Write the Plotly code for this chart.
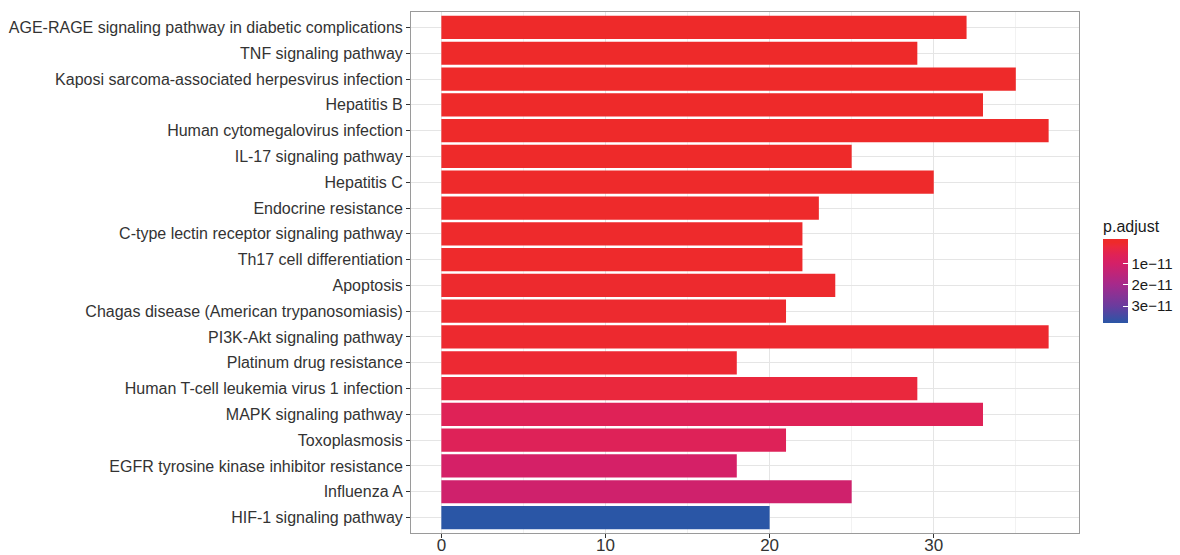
import plotly.graph_objects as go

# KEGG pathway enrichment: gene counts and adjusted p-values
pathways = [
    "AGE-RAGE signaling pathway in diabetic complications",
    "TNF signaling pathway",
    "Kaposi sarcoma-associated herpesvirus infection",
    "Hepatitis B",
    "Human cytomegalovirus infection",
    "IL-17 signaling pathway",
    "Hepatitis C",
    "Endocrine resistance",
    "C-type lectin receptor signaling pathway",
    "Th17 cell differentiation",
    "Apoptosis",
    "Chagas disease (American trypanosomiasis)",
    "PI3K-Akt signaling pathway",
    "Platinum drug resistance",
    "Human T-cell leukemia virus 1 infection",
    "MAPK signaling pathway",
    "Toxoplasmosis",
    "EGFR tyrosine kinase inhibitor resistance",
    "Influenza A",
    "HIF-1 signaling pathway",
]
counts = [32, 29, 35, 33, 37, 25, 30, 23, 22, 22, 24, 21, 37, 18, 29, 33, 21, 18, 25, 20]
p_adjust = [1.2e-15, 2e-15, 5e-15, 1e-14, 2e-14, 5e-14, 8e-14, 1.5e-13, 2e-13, 2.5e-13,
            4e-13, 5e-13, 6e-13, 1e-12, 2.2e-12, 6e-12, 6.3e-12, 9.8e-12, 1.1e-11, 3.8e-11]

cbar_ticks = [1e-11, 2e-11, 3e-11]
cbar_labels = ["1e\u221211", "2e\u221211", "3e\u221211"]
x_ticks = [0, 10, 20, 30]

# red (small p) to blue (large p); values are negated so the smallest p
# sits at the top of the colour bar
p_lo = -1.6e-12          # bar extends slightly past zero at the top
p_hi = max(p_adjust)
neg_p = [-v for v in p_adjust]
c_min, c_max = -p_hi, -p_lo

color_anchors = [
    (p_hi, "#2A56A6"),
    (3.0e-11, "#6A3C9E"),
    (2.0e-11, "#A52A8C"),
    (1.0e-11, "#D42068"),
    (6.0e-12, "#DF2257"),
    (2.0e-12, "#EB283C"),
    (0.0, "#EE2A2A"),
    (p_lo, "#EE2A2A"),
]
colorscale = [[(-p - c_min) / (c_max - c_min), c] for p, c in color_anchors]

# 5% padding on the count axis, 0.6 category padding on the pathway axis
x_max = max(counts)
x_pad = 0.05 * x_max
n = len(pathways)

fig = go.Figure(
    go.Bar(
        x=counts,
        y=pathways,
        orientation="h",
        marker=dict(
            color=neg_p,
            colorscale=colorscale,
            cmin=c_min,
            cmax=c_max,
            line=dict(width=0),
            colorbar=dict(
                title=dict(text="p.adjust", side="top",
                           font=dict(size=16, color="#1A1A1A")),
                tickvals=[-t for t in cbar_ticks],
                ticktext=cbar_labels,
                tickfont=dict(size=15, color="#1A1A1A"),
                ticks="inside",
                ticklen=5,
                tickcolor="#FFFFFF",
                thickness=25,
                thicknessmode="pixels",
                len=106,
                lenmode="pixels",
                x=1.036,
                xanchor="left",
                xpad=0,
                y=0.4031,
                yanchor="bottom",
                ypad=0,
                outlinewidth=0,
            ),
        ),
        showlegend=False,
    )
)

fig.update_layout(
    width=1180,
    height=555,
    margin=dict(l=411, r=101, t=12, b=22, autoexpand=False),
    paper_bgcolor="white",
    plot_bgcolor="white",
    bargap=0.1,
    font=dict(family="Liberation Sans, Arial, sans-serif"),
    xaxis=dict(
        range=[-x_pad, x_max + x_pad],
        tickvals=x_ticks,
        tickfont=dict(size=17, color="#333333"),
        ticks="outside",
        ticklen=4,
        tickcolor="#333333",
        ticklabelstandoff=-7,
        showgrid=True,
        gridcolor="#E5E5E5",
        gridwidth=1,
        minor=dict(dtick=5, tick0=0, showgrid=True, gridcolor="#F2F2F2", gridwidth=1),
        showline=True,
        mirror=True,
        linecolor="#9A9A9A",
        linewidth=1,
        zeroline=False,
        automargin=False,
    ),
    yaxis=dict(
        type="category",
        categoryorder="array",
        categoryarray=pathways,
        range=[n - 1 + 0.6, -0.6],
        tickfont=dict(size=16, color="#333333"),
        ticks="outside",
        ticklen=4,
        tickcolor="#333333",
        showgrid=True,
        gridcolor="#E5E5E5",
        showline=True,
        mirror=True,
        linecolor="#9A9A9A",
        linewidth=1,
        automargin=False,
    ),
)

fig.write_html("out.html")
